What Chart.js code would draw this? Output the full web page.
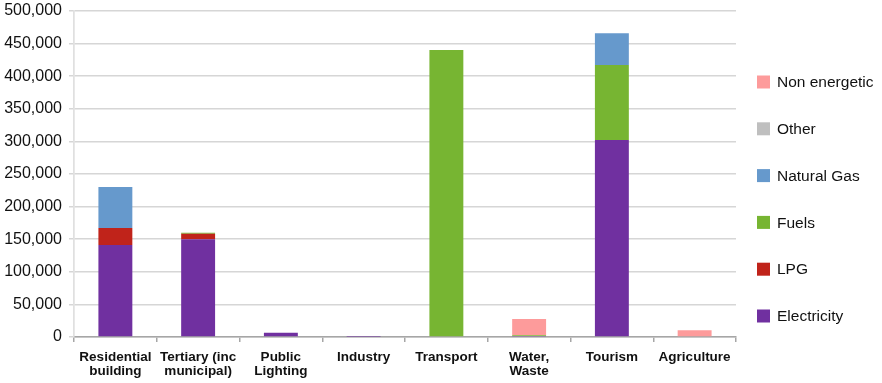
<!DOCTYPE html>
<html>
<head>
<meta charset="utf-8">
<script src="https://cdn.jsdelivr.net/npm/chart.js@4/dist/chart.umd.min.js"></script>
<style>
  html, body { margin: 0; padding: 0; background: #fff; }
  #wrap { width: 882px; height: 383px; position: relative; }
</style>
</head>
<body>
<div id="wrap"><canvas id="chart"></canvas></div>
<script>
const sectores = [
  ['Residential', 'building'],
  ['Tertiary (inc', 'municipal)'],
  ['Public', 'Lighting'],
  'Industry',
  'Transport',
  ['Water,', 'Waste'],
  'Tourism',
  'Agriculture'
];

// consumo por fuente, en el mismo orden que los sectores
const electricidad = [141000, 150000, 6500, 500, 0, 1500, 302000, 0];
const glp = [26000, 8500, 0, 0, 0, 0, 0, 0];
const combustibles = [0, 1500, 0, 0, 440000, 1000, 115000, 0];
const gasNatural = [63000, 0, 0, 0, 0, 0, 49000, 0];
const otros = [0, 0, 0, 0, 0, 0, 0, 0];
const noEnergetico = [0, 0, 0, 0, 0, 25000, 0, 10500];

const yTicks = [0, 50000, 100000, 150000, 200000, 250000, 300000, 350000, 400000, 450000, 500000];

const fuente = "'Liberation Sans', Arial, Helvetica, sans-serif";

const series = [
  { label: 'Electricity', data: electricidad, color: '#7030a0' },
  { label: 'LPG', data: glp, color: '#c0231a' },
  { label: 'Fuels', data: combustibles, color: '#77b532' },
  { label: 'Natural Gas', data: gasNatural, color: '#6699cc' },
  { label: 'Other', data: otros, color: '#bfbfbf' },
  { label: 'Non energetic', data: noEnergetico, color: '#fd9b9b' }
];

// leyenda a la derecha, de arriba hacia abajo en orden inverso al apilado
const leyenda = {
  id: 'leyenda',
  afterDraw(chart) {
    const ctx = chart.ctx;
    ctx.save();
    ctx.font = '15.5px ' + fuente;
    ctx.textBaseline = 'middle';
    ctx.textAlign = 'left';
    const lista = chart.data.datasets.slice().reverse();
    lista.forEach((ds, i) => {
      const y = 82 + i * 46.8;
      ctx.fillStyle = ds.backgroundColor;
      ctx.fillRect(757, y - 6.5, 13, 13);
      ctx.fillStyle = '#111';
      ctx.fillText(ds.label, 777, y + 1);
    });
    ctx.restore();
  }
};

new Chart(document.getElementById('chart'), {
  type: 'bar',
  data: {
    labels: sectores,
    datasets: series.map(s => ({
      label: s.label,
      data: s.data,
      backgroundColor: s.color,
      borderWidth: 0,
      categoryPercentage: 1,
      barPercentage: 0.41
    }))
  },
  options: {
    responsive: true,
    maintainAspectRatio: false,
    animation: false,
    layout: { padding: { top: 11, right: 146, left: 0, bottom: 0 } },
    plugins: {
      legend: { display: false },
      tooltip: { enabled: false }
    },
    scales: {
      x: {
        stacked: true,
        afterFit: s => { s.height = 46; },
        grid: {
          offset: true,
          drawOnChartArea: true,
          color: c => (c.index === 0 || c.index === sectores.length) ? '#e3e3e3' : 'rgba(0,0,0,0)',
          tickColor: '#a6a6a6',
          tickLength: 5,
          lineWidth: 1.5
        },
        border: { color: '#a6a6a6', width: 1.5 },
        ticks: {
          color: '#111',
          padding: 8,
          maxRotation: 0,
          autoSkip: false,
          font: { family: fuente, size: 13.5, weight: 'bold', lineHeight: 1.07 }
        }
      },
      y: {
        stacked: true,
        min: 0,
        max: 500000,
        afterFit: s => { s.width = 74; s.paddingTop = 0; s.paddingBottom = 0; },
        afterBuildTicks: s => { s.ticks = yTicks.map(v => ({ value: v })); },
        grid: {
          color: '#d6d6d6',
          lineWidth: 1.5,
          tickLength: 5,
          tickColor: '#d6d6d6'
        },
        border: { color: '#e0e0e0', width: 1.5 },
        ticks: {
          color: '#111',
          padding: 7,
          font: { family: fuente, size: 16 },
          callback: v => v.toLocaleString('en-US')
        }
      }
    }
  },
  plugins: [leyenda]
});
</script>
</body>
</html>
